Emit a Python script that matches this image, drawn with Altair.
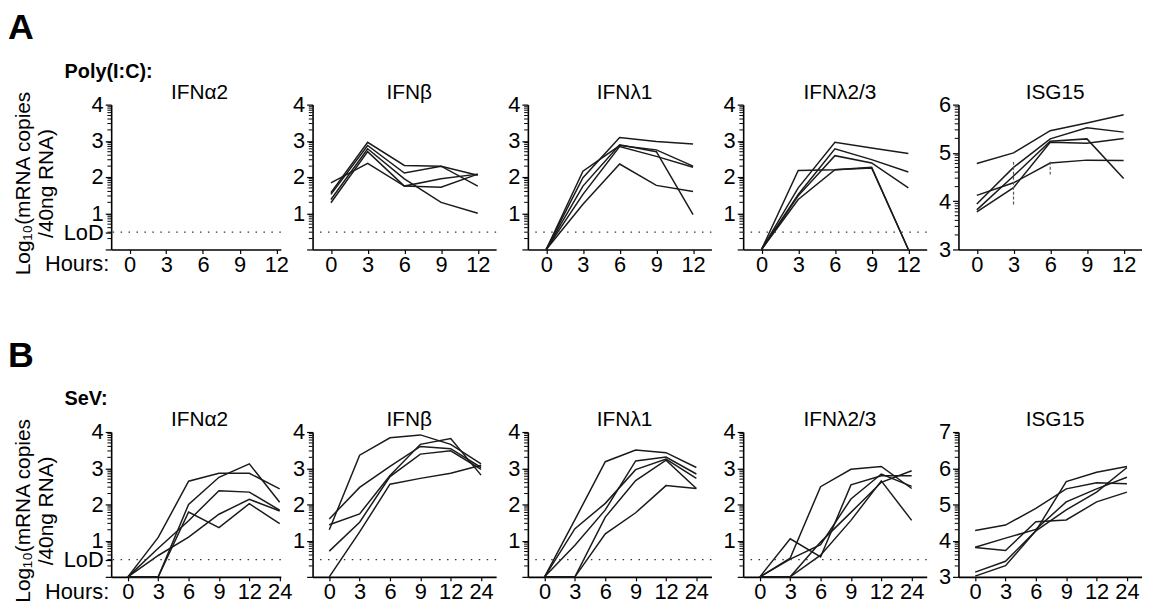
import math
import altair as alt
import pandas as pd

FONT = "Liberation Sans"

# ---------------- data (log10 mRNA copies / 40 ng RNA, one list per donor) ----------------
genes = ["IFNα2", "IFNβ", "IFNλ1", "IFNλ2/3", "ISG15"]
hours_a = ["0", "3", "6", "9", "12"]
hours_b = ["0", "3", "6", "9", "12", "24"]
LOD = 0.4771  # log10(3)

# Poly(I:C)
pic_ifna2 = []
pic_ifnb = [
    [1.84, 2.38, 1.75, 1.72, 2.08],
    [1.57, 2.96, 2.32, 2.30, 2.05],
    [1.52, 2.87, 2.11, 2.30, 1.75],
    [1.38, 2.78, 1.95, 1.30, 1.00],
    [1.29, 2.70, 1.75, 1.95, 2.08],
]
pic_ifnl1 = [
    [0, 2.16, 2.87, 2.75, 2.30],
    [0, 1.98, 3.09, 2.98, 2.91],
    [0, 1.75, 2.89, 2.70, 0.96],
    [0, 1.52, 2.84, 2.57, 2.27],
    [0, 1.25, 2.36, 1.77, 1.60],
]
pic_ifnl23 = [
    [0, 1.70, 2.96, 2.80, 2.65],
    [0, 1.52, 2.78, 2.48, 2.14],
    [0, 1.48, 2.59, 2.39, 1.70],
    [0, 2.18, 2.20, 2.27, 0],
    [0, 1.38, 2.20, 2.25, 0],
]
pic_isg15 = [
    [4.78, 5.00, 5.46, 5.62, 5.79],
    [4.12, 4.38, 4.79, 4.85, 4.84],
    [3.94, 4.70, 5.29, 5.52, 5.43],
    [3.82, 4.52, 5.24, 5.29, 4.47],
    [3.78, 4.28, 5.22, 5.20, 5.30],
]
# spread bars visible on the Poly(I:C) ISG15 panel: hour index, low, high
pic_isg15_bar_idx = [1, 2]
pic_isg15_bar_lo = [3.93, 4.55]
pic_isg15_bar_hi = [4.82, 4.84]

# SeV
sev_ifna2 = [
    [0, 1.09, 2.64, 2.86, 2.86, 2.43],
    [0, 0, 2.00, 2.75, 3.12, 2.06],
    [0, 0, 1.79, 1.36, 2.02, 1.47],
    [0, 0.79, 1.55, 2.38, 2.34, 1.84],
    [0, 0.59, 1.10, 1.73, 2.14, 1.82],
]
sev_ifnb = [
    [1.30, 3.36, 3.84, 3.92, 3.66, 3.12],
    [1.60, 2.47, 3.05, 3.60, 3.54, 3.02],
    [1.44, 1.74, 2.80, 3.66, 3.82, 2.81],
    [0.71, 1.51, 2.77, 3.39, 3.48, 2.97],
    [0.00, 1.24, 2.56, 2.72, 2.86, 3.08],
]
sev_ifnl1 = [
    [0, 1.58, 3.18, 3.50, 3.43, 3.02],
    [0, 1.33, 2.03, 2.96, 3.25, 2.72],
    [0, 0.87, 1.85, 3.20, 3.31, 2.84],
    [0, 0, 1.65, 2.66, 3.22, 2.44],
    [0, 0, 1.19, 1.77, 2.52, 2.44],
]
sev_ifnl23 = [
    [0, 0.52, 2.49, 2.97, 3.05, 2.44],
    [0, 1.05, 0.55, 2.54, 2.79, 2.79],
    [0, 0.49, 0.89, 2.15, 2.84, 2.50],
    [0, 0, 0.96, 1.78, 2.61, 2.93],
    [0, 0, 0.60, 1.56, 2.65, 1.56],
]
sev_isg15 = [
    [4.28, 4.43, 4.89, 5.43, 5.60, 5.57],
    [3.82, 4.07, 4.31, 5.07, 5.43, 5.75],
    [3.81, 3.73, 4.52, 4.57, 5.07, 5.34],
    [3.13, 3.43, 4.27, 5.63, 5.89, 6.05],
    [3.02, 3.31, 4.27, 4.85, 5.34, 6.02],
]

row_a = [pic_ifna2, pic_ifnb, pic_ifnl1, pic_ifnl23, pic_isg15]
row_b = [sev_ifna2, sev_ifnb, sev_ifnl1, sev_ifnl23, sev_isg15]
ydom_a = [(0, 4), (0, 4), (0, 4), (0, 4), (3, 6)]
ydom_b = [(0, 4), (0, 4), (0, 4), (0, 4), (3, 7)]

# ---------------- layout ----------------
H = 146
W_FIRST = 171
W = 185
LABEL_FS = 22


def text_layer(txt, x, y, size, weight="normal", align="left", baseline="alphabetic"):
    return alt.Chart(pd.DataFrame({"t": [txt]})).mark_text(
        font=FONT, fontSize=size, fontWeight=weight, align=align,
        baseline=baseline, color="black"
    ).encode(text="t:N", x=alt.value(x), y=alt.value(y))


def make_panel(series, hour_labels, gene, ydom, col, step, padl, letter, stim, bars=None):
    rows = []
    for d, vals in enumerate(series):
        for i, v in enumerate(vals):
            rows.append({"idx": i, "val": v, "donor": "D%d" % (d + 1)})
    df = pd.DataFrame(rows, columns=["idx", "val", "donor"])
    width = W_FIRST if col == 0 else W
    xdom = [-padl, -padl + width / step]
    ymin, ymax = ydom
    majors = list(range(ymin, ymax + 1))
    minors = [n + math.log10(k) for n in range(ymin, ymax) for k in range(2, 10)]
    lmin = 1 if ymin == 0 else ymin
    lab = "(datum.value %% 1 == 0 && datum.value >= %d) ? format(datum.value, 'd') : ''" % lmin
    vals = list(majors)
    if col == 0:
        lab = "abs(datum.value - %f) < 0.002 ? 'LoD' : (%s)" % (LOD, lab)
        vals = vals + [LOD]
    yaxis = alt.Axis(
        values=vals, labelExpr=lab, tickSize=6,
        tickWidth=1.2, tickColor="black", domainColor="black", domainWidth=1.6,
        labelFont=FONT, labelFontSize=LABEL_FS, labelColor="black", labelPadding=2,
        labelOverlap=False, labelFlush=False, grid=False,
        title=["Log₁₀(mRNA copies", "/40ng RNA)"] if col == 0 else None,
        titleFont=FONT, titleFontSize=21, titleFontWeight="normal", titleColor="black",
        titleLineHeight=23, titleAngle=-90, titleBaseline="bottom", titleAlign="center",
        titleX=-78, titleY=79,
    )
    arr = "[" + ",".join("'%s'" % h for h in hour_labels) + "]"
    xaxis = alt.Axis(
        values=list(range(len(hour_labels))), labelExpr=arr + "[datum.value]",
        tickSize=4, tickWidth=1.2, tickColor="black", domainColor="black", domainWidth=1.6,
        labelFont=FONT, labelFontSize=LABEL_FS, labelColor="black", labelPadding=1,
        labelOverlap=False, labelFlush=False, grid=False, title=None,
    )
    xs = alt.Scale(domain=xdom, nice=False, zero=False)
    ys = alt.Scale(domain=[ymin, ymax], nice=False, zero=False)
    lines = alt.Chart(df).mark_line(color="#1a1a1a", strokeWidth=1.5).encode(
        x=alt.X("idx:Q", scale=xs, axis=xaxis),
        y=alt.Y("val:Q", scale=ys, axis=yaxis),
        detail="donor:N",
    )
    layers = [lines]
    # minor (log) ticks on the y axis
    minor = alt.Chart(pd.DataFrame({"val": minors})).mark_rule(
        color="black", strokeWidth=1
    ).encode(y=alt.Y("val:Q", scale=ys, axis=yaxis), x=alt.value(-3.8), x2=alt.value(0))
    layers.append(minor)
    if gene != "ISG15":
        lod = alt.Chart(pd.DataFrame({"val": [LOD]})).mark_rule(
            color="#333333", strokeWidth=1.3, strokeDash=[1.5, 6.5]
        ).encode(y=alt.Y("val:Q", scale=ys, axis=yaxis))
        layers.append(lod)
    if bars is not None:
        bdf = pd.DataFrame({"idx": bars[0], "val": bars[1], "hi": bars[2]})
        layers.append(
            alt.Chart(bdf).mark_rule(color="#555555", strokeWidth=1.2, strokeDash=[3, 2]).encode(
                x=alt.X("idx:Q", scale=xs, axis=xaxis),
                y=alt.Y("val:Q", scale=ys, axis=yaxis),
                y2="hi:Q",
            )
        )
    # panel title
    layers.append(text_layer(gene, (89 if col == 0 else W / 2 + 5), -6, 21, align="center"))
    if col == 0:
        layers.append(text_layer(letter, -104, -66, 36, weight="bold"))
        layers.append(text_layer(stim, -47, -27, 20, weight="bold"))
        layers.append(text_layer("Hours:", -2, H + 5, LABEL_FS, align="right", baseline="top"))
    return alt.layer(*layers).properties(width=width, height=H)


panels = []
for c in range(5):
    bars = (pic_isg15_bar_idx, pic_isg15_bar_lo, pic_isg15_bar_hi) if c == 4 else None
    panels.append(make_panel(row_a[c], hours_a, genes[c], ydom_a[c], c, 37.0, 0.5, "A", "Poly(I:C):", bars))
for c in range(5):
    panels.append(make_panel(row_b[c], hours_b, genes[c], ydom_b[c], c, 30.6, 0.55, "B", "SeV:"))

chart = alt.concat(
    *panels, columns=5, spacing={"row": 184, "column": 32}, bounds="flush", align="each"
).properties(
    padding={"left": 0, "top": 0, "right": 0, "bottom": 0}
).configure_view(stroke=None)

chart.save("out.html", embed_options={"renderer": "svg", "actions": False})
